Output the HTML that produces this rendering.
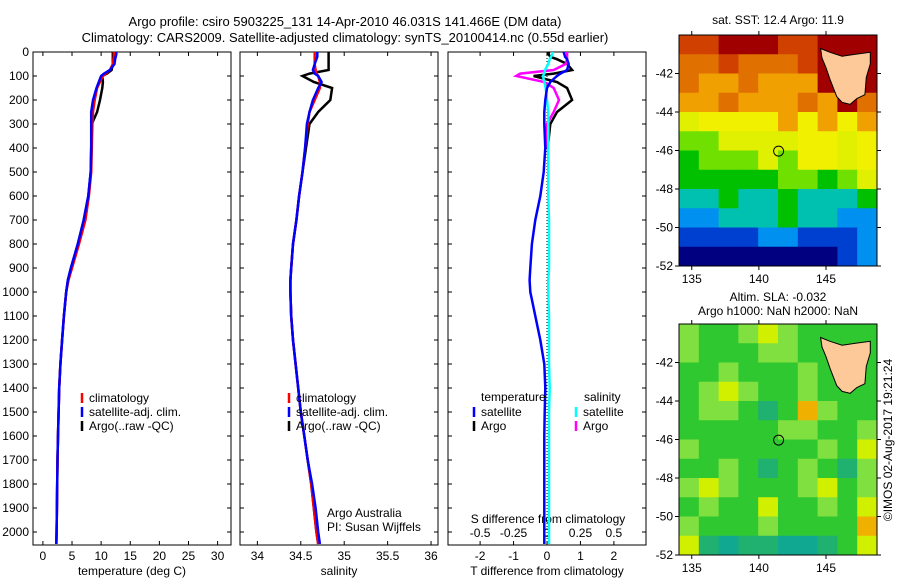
<!DOCTYPE html>
<html><head><meta charset="utf-8"><style>
body{margin:0;background:#fff}
svg{display:block;font-family:"Liberation Sans",sans-serif;font-size:12px}
</style></head><body>
<svg id="fig" width="900" height="580" viewBox="0 0 900 580" xmlns="http://www.w3.org/2000/svg">
<text x="345" y="26" text-anchor="middle" font-size="13">Argo profile: csiro 5903225_131 14-Apr-2010 46.031S 141.466E (DM data)</text>
<text x="345" y="42" text-anchor="middle" font-size="13">Climatology: CARS2009. Satellite-adjusted climatology: synTS_20100414.nc (0.55d earlier)</text>
<g id="p1"></g>
<g id="p2"></g>
<g id="p3"></g>
<g id="m1"></g>
<g id="m2"></g>
<text x="778" y="24" text-anchor="middle">sat. SST: 12.4 Argo: 11.9</text>
<text x="778" y="301" text-anchor="middle">Altim. SLA: -0.032</text>
<text x="778" y="315" text-anchor="middle">Argo h1000: NaN h2000: NaN</text>
<text transform="translate(892,440) rotate(-90)" text-anchor="middle">©IMOS 02-Aug-2017 19:21:24</text>
<text x="327" y="517">Argo Australia</text>
<text x="327" y="531">PI: Susan Wijffels</text>
</svg>
<script>
const depth=[0,10,20,30,50,75,90,100,125,150,200,250,300,400,500,600,700,800,900,950,1000,1100,1200,1300,1400,1500,1600,1700,1800,1900,2000,2050];
const tempClim=[12.2,12.2,12.2,12.1,12,11.5,10.8,10.3,9.8,9.3,8.9,8.6,8.5,8.4,8.3,7.9,7.3,6.2,5.0,4.4,4.0,3.6,3.3,3.0,2.8,2.7,2.6,2.5,2.45,2.4,2.35,2.3];
const tempSat=[12.6,12.6,12.5,12.4,12.3,11.5,10.5,10.0,9.6,9.2,8.6,8.3,8.3,8.3,8.2,7.8,7.0,6.0,4.8,4.3,4.0,3.6,3.3,3.0,2.8,2.7,2.6,2.5,2.45,2.4,2.35,2.3];
const tempArgo=[12.0,12,12,12,12,11.8,11,10.2,10.3,10.2,9.8,9.3,8.4,8.3,8.2,7.8,7.0,6.0,4.8,4.3,4.0,3.6,3.3,3.0,2.8,2.7,2.6,2.5,2.45,2.4,2.35,2.3];
const salClim=[34.66,34.66,34.66,34.66,34.66,34.67,34.68,34.7,34.72,34.72,34.66,34.6,34.58,34.55,34.52,34.48,34.45,34.41,34.39,34.38,34.38,34.39,34.41,34.44,34.47,34.5,34.54,34.58,34.62,34.65,34.68,34.7];
const salSat=[34.69,34.69,34.69,34.68,34.66,34.64,34.66,34.7,34.74,34.7,34.64,34.6,34.57,34.55,34.52,34.48,34.45,34.41,34.39,34.38,34.38,34.39,34.41,34.44,34.47,34.5,34.54,34.58,34.63,34.67,34.7,34.72];
const salArgo=[34.82,34.82,34.82,34.82,34.82,34.82,34.6,34.52,34.65,34.86,34.84,34.7,34.6,34.56,34.52,34.48,34.45,34.41,34.39,34.38,34.38,34.39,34.41,34.44,34.47,34.5,34.54,34.58,34.62,34.65,34.68,34.7];
const tDiffSat=[0.5,0.52,0.54,0.6,0.65,0.6,0.4,0.3,0.1,0,-0.05,-0.08,-0.08,-0.05,-0.1,-0.2,-0.35,-0.45,-0.5,-0.52,-0.5,-0.35,-0.2,-0.08,-0.05,-0.07,-0.08,-0.08,-0.08,-0.08,-0.08,-0.08];
const sDiffSat=[0.04,0.04,0.03,0.02,0.01,-0.015,-0.02,-0.03,-0.02,-0.01,0.0,0.01,0.01,0.01,0.01,0.01,0.015,0.015,0.015,0.01,0.01,0.015,0.015,0.015,0.02,0.015,0.015,0.015,0.015,0.015,0.015,0.015];
const tDiffArgo=[0.05,0.05,0.1,0.3,0.6,0.75,0.2,-0.4,0.3,0.6,0.75,0.3,0.1,0.02,null,null,null,null,null,null,null,null,null,null,null,null,null,null,null,null,null,null];
const sDiffArgo=[0.15,0.15,0.15,0.15,0.14,0.05,-0.2,-0.23,-0.02,0.05,0.09,0.05,0.0,-0.01,null,null,null,null,null,null,null,null,null,null,null,null,null,null,null,null,null,null];
const depthTicks=[0,100,200,300,400,500,600,700,800,900,1000,1100,1200,1300,1400,1500,1600,1700,1800,1900,2000];
const tempTicks=[0,5,10,15,20,25,30];
const salTicks=[34,34.5,35,35.5,36];
const tDiffTicks=[-2,-1,0,1,2];
const sDiffTicks=[-0.5,-0.25,0,0.25,0.5];
const lonTicks=[135,140,145];
const latTicks=[-42,-44,-46,-48,-50,-52];
const sstGrid=[
[10,10,11,11,11,10,10,11,11,11],[9,9,10,9,9,9,10,11,11,11],[9,8,8,9,8,8,8,11,11,11],[8,8,9,8,8,8,9,8,11,9],
[6,7,7,7,7,8,7,8,7,8],[5,5,6,6,6,6,7,7,6,7],[4,5,5,5,6,5,7,7,6,7],[4,4,4,4,4,5,5,4,5,6],
[3,3,4,3,3,4,3,3,3,4],[2,2,3,3,3,4,3,3,2,2],[1,1,1,1,2,2,1,1,1,2],[0,0,0,0,0,0,0,0,1,2]];
const slaGrid=[
[6,5,5,6,7,6,5,5,5,5],[6,5,5,5,6,6,5,5,5,5],[5,5,6,5,5,5,6,5,5,5],[5,6,7,6,5,5,6,5,5,5],
[5,6,6,5,4,5,8,6,5,5],[5,5,5,5,5,6,6,5,5,6],[6,5,5,5,5,5,5,6,5,7],[5,5,6,5,4,5,6,5,4,6],
[6,7,6,5,5,5,6,7,5,6],[5,6,5,5,7,5,5,6,5,7],[6,5,5,5,6,5,5,5,5,8],[7,4,3,4,4,3,3,4,5,7]];
const sstColors=['#000080','#0040d0','#0090f0','#00c0b0','#00c000','#70e000','#e0f000','#f0f000','#f0a000','#e07000','#d04000','#a00000'];
const slaColors=['#000080','#0040d0','#0090f0','#10a890','#20b070','#30c830','#80e040','#d0f000','#f0b000'];
const tasLon=[144.6,145.3,146.2,147.2,148.3,148.3,148.0,147.9,147.3,146.8,146.2,145.8,145.3,145.0,144.7];
const tasLat=[-40.7,-40.9,-41.1,-41.0,-40.9,-41.5,-42.2,-43.1,-43.3,-43.6,-43.5,-43.2,-42.3,-41.7,-41.2];
const floatLon=141.47, floatLat=-46.03;

const NS='http://www.w3.org/2000/svg';
function mk(parent,tag,attrs){const e=document.createElementNS(NS,tag);for(const k in attrs)e.setAttribute(k,attrs[k]);parent.appendChild(e);return e;}
const Y0=52,Y1=545;
const yD=d=>Y0+d*(532-Y0)/2000;
function panel(g,x0,x1,xmin,xmax,ticks,fmt,showDepth){
  const xs=v=>x0+(v-xmin)/(xmax-xmin)*(x1-x0);
  const r=mk(g,'rect',{x:x0,y:Y0,width:x1-x0,height:Y1-Y0,fill:'none',stroke:'#000'});
  
  depthTicks.forEach(d=>{const y=yD(d);
    mk(g,'line',{x1:x0,x2:x0+4,y1:y,y2:y,stroke:'#000'});mk(g,'line',{x1:x1,x2:x1-4,y1:y,y2:y,stroke:'#000'});
    if(showDepth){const t=mk(g,'text',{x:x0-4,y:y+4,'text-anchor':'end'});t.textContent=d;
      }});
  ticks.forEach(v=>{const x=xs(v);
    mk(g,'line',{x1:x,x2:x,y1:Y0,y2:Y0+4,stroke:'#000'});mk(g,'line',{x1:x,x2:x,y1:Y1,y2:Y1-4,stroke:'#000'});
    if(fmt){const t=mk(g,'text',{x:x,y:Y1+15,'text-anchor':'middle'});t.textContent=fmt(v);
      }});
  return xs;
}
function line(g,xs,vals,col,name,w){
  const pts=[];vals.forEach((v,i)=>{if(v!==null)pts.push(xs(v).toFixed(1)+','+yD(depth[i]).toFixed(1));});
  const p=mk(g,'polyline',{points:pts.join(' '),fill:'none',stroke:col,'stroke-width':w||2.5});
  
}
function legend(g,x,y,items){
  items.forEach((it,i)=>{mk(g,'line',{x1:x,x2:x,y1:y+i*14-9,y2:y+i*14+1,stroke:it[1],'stroke-width':2.5});
    const t=mk(g,'text',{x:x+7,y:y+i*14});t.textContent=it[0];
    });
}
function label(g,x,y,s,name){const t=mk(g,'text',{x:x,y:y,'text-anchor':'middle'});t.textContent=s;
  }

const g1=document.getElementById('p1');
const xt=panel(g1,33,231,-1.7,32.3,tempTicks,v=>v,true);
line(g1,xt,tempArgo,'#000','temp-argo-line');line(g1,xt,tempClim,'#f00','temp-clim-line');line(g1,xt,tempSat,'#00f','temp-sat-line');
legend(g1,82,402,[['climatology','#f00'],['satellite-adj. clim.','#00f'],['Argo(..raw -QC)','#000']]);
label(g1,132,575,'temperature (deg C)','x-axis-title');

const g2=document.getElementById('p2');
const xsal=panel(g2,240,438,33.8,36.08,salTicks,v=>v,false);
line(g2,xsal,salArgo,'#000','sal-argo-line');line(g2,xsal,salClim,'#f00','sal-clim-line');line(g2,xsal,salSat,'#00f','sal-sat-line');
legend(g2,289,402,[['climatology','#f00'],['satellite-adj. clim.','#00f'],['Argo(..raw -QC)','#000']]);
label(g2,339,575,'salinity','x-axis-title');

const g3=document.getElementById('p3');
const xtd=panel(g3,448,646,-2.96,2.96,tDiffTicks,v=>v,false);
const xsd=v=>xtd(v*4);
sDiffTicks.forEach(v=>{const t=mk(g3,'text',{x:xsd(v),y:537,'text-anchor':'middle'});t.textContent=v;
  });
mk(g3,'line',{x1:xtd(0),x2:xtd(0),y1:Y0,y2:Y1,stroke:'#000','stroke-dasharray':'1,2'});
label(g3,548,523,'S difference from climatology','s-axis-title');
line(g3,xtd,tDiffArgo,'#000','tdiff-argo-line');line(g3,xsd,sDiffArgo,'#f0f','sdiff-argo-line');
line(g3,xsd,sDiffSat,'#0ff','sdiff-sat-line');line(g3,xtd,tDiffSat,'#00f','tdiff-sat-line');
const tl=mk(g3,'text',{x:481,y:401});tl.textContent='temperature';
const sl=mk(g3,'text',{x:584,y:401});sl.textContent='salinity';
legend(g3,474,416,[['satellite','#00f'],['Argo','#000']]);
legend(g3,576,416,[['satellite','#0ff'],['Argo','#f0f']]);
label(g3,547,575,'T difference from climatology','x-axis-title');

function map(g,top,grid,colors,name){
  const L=679,R=877,B=top+231,lon0=134.05,lon1=148.8;
  const xl=v=>L+(v-lon0)/(lon1-lon0)*(R-L), yl=v=>top+(-40-v)/12*(B-top);
  const nr=grid.length,nc=grid[0].length,cw=(R-L)/nc,ch=(B-top)/nr;
  grid.forEach((row,i)=>row.forEach((v,j)=>{const c=mk(g,'rect',{x:L+j*cw,y:top+i*ch,width:cw+0.5,height:ch+0.5,fill:colors[v]});
    }));
  const pts=tasLon.map((v,i)=>xl(v).toFixed(1)+','+yl(tasLat[i]).toFixed(1)).join(' ');
  const t=mk(g,'polygon',{points:pts,fill:'#fdc998',stroke:'#000'});
  const c=mk(g,'circle',{cx:xl(floatLon),cy:yl(floatLat),r:5,fill:'none',stroke:'#000'});
  const f=mk(g,'rect',{x:L,y:top,width:R-L,height:B-top,fill:'none',stroke:'#000'});
  lonTicks.forEach(v=>{const x=xl(v);mk(g,'line',{x1:x,x2:x,y1:top,y2:top-4,stroke:'#000'});mk(g,'line',{x1:x,x2:x,y1:B,y2:B+4,stroke:'#000'});
    const tt=mk(g,'text',{x:x,y:B+17,'text-anchor':'middle'});tt.textContent=v;});
  latTicks.forEach(v=>{const y=yl(v);mk(g,'line',{x1:L,x2:L-4,y1:y,y2:y,stroke:'#000'});mk(g,'line',{x1:R,x2:R+4,y1:y,y2:y,stroke:'#000'});
    const tt=mk(g,'text',{x:L-6,y:y+4,'text-anchor':'end'});tt.textContent=v;});
}
map(document.getElementById('m1'),35,sstGrid,sstColors,'sst');
map(document.getElementById('m2'),324,slaGrid,slaColors,'sla');
</script>
</body></html>
